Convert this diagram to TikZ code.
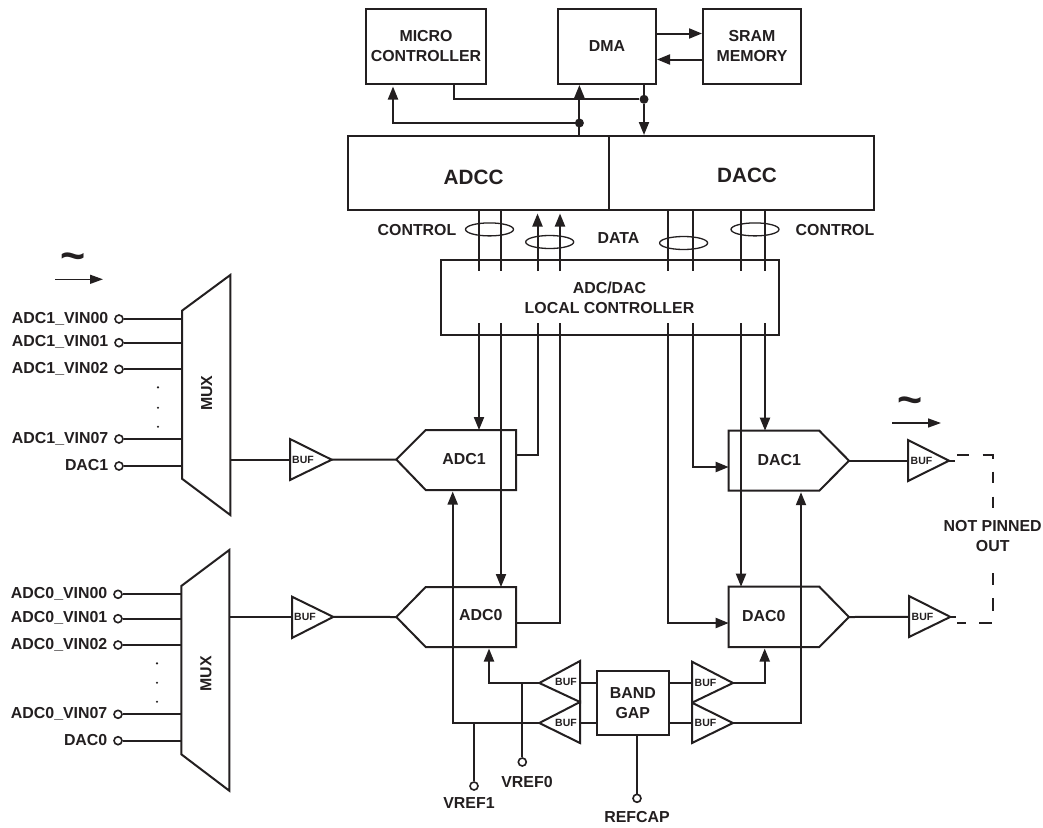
\documentclass[tikz,border=0pt]{standalone}
\usepackage{fontspec}
\setmainfont{Liberation Sans}[BoldFont={Liberation Sans Bold}]
\usetikzlibrary{arrows.meta,shapes.geometric,calc}
\definecolor{ink}{RGB}{35,31,32}
\tikzset{
  wire/.style={draw=ink,line width=2pt},
  arr/.style={wire,-{Triangle[length=13pt,width=10pt]}},
  thinarr/.style={draw=ink,line width=1.5pt,-{Triangle[length=13pt,width=9pt]}},
  shapeline/.style={draw=ink,line width=2pt,fill=white,line join=miter},
  block/.style={draw=ink,line width=2pt,rectangle,inner sep=0pt,align=center,fill=white,text=ink,
    font=\fontsize{15.9}{20}\selectfont\bfseries},
  lab/.style={text=ink,inner sep=0pt,align=center,font=\fontsize{15.9}{20}\selectfont\bfseries},
  biglab/.style={text=ink,inner sep=0pt,font=\fontsize{20.7}{24}\selectfont\bfseries},
  buflab/.style={text=ink,inner sep=0pt,font=\fontsize{10.5}{12}\selectfont\bfseries},
  term/.style={circle,draw=ink,line width=1.6pt,fill=white,minimum size=8pt,inner sep=0pt},
  junction/.style={circle,fill=ink,minimum size=9pt,inner sep=0pt},
  loop/.style={ellipse,draw=ink,line width=1.3pt,minimum width=48pt,minimum height=13pt,inner sep=0pt},
  vdot/.style={circle,fill=ink,minimum size=2.4pt,inner sep=0pt},
  tildelab/.style={text=ink,inner sep=0pt,font=\fontsize{43}{43}\selectfont\bfseries},
}
\begin{document}
\begin{tikzpicture}[x=1pt,y=-1pt]
\useasboundingbox (0,0) rectangle (1043,827);
\fill[white] (0,0) rectangle (1043,827);

% top blocks
\node[block,minimum width=120pt,minimum height=75pt] (micro) at (426,46.5) {MICRO\\CONTROLLER};
\node[block,minimum width=98pt,minimum height=75pt] (dma) at (607,46.5) {\raisebox{1.5pt}{DMA}};
\node[block,minimum width=98pt,minimum height=75pt] (sram) at (752,46.5) {SRAM\\MEMORY};
\node[block,minimum width=261pt,minimum height=74pt] (adcc) at (478.5,173) {};
\node[block,minimum width=265pt,minimum height=74pt] (dacc) at (741.5,173) {};
\node[biglab] (adcct) at (473.6,177) {ADCC};
\node[biglab] (dacct) at (747,175.8) {DACC};
\node[block,minimum width=338pt,minimum height=75pt] (lc) at (609.5,297.5) {ADC/DAC\\LOCAL CONTROLLER};

% x positions of the eight bus lines, and the stub limits inside the controller
\coordinate (xa) at (479,0);
\coordinate (xb) at (501,0);
\coordinate (xc) at (537.5,0);
\coordinate (xd) at (560,0);
\coordinate (xe) at (668,0);
\coordinate (xf) at (693,0);
\coordinate (xg) at (741,0);
\coordinate (xh) at (765,0);
\coordinate (s1) at (0,271);
\coordinate (s2) at (0,323);
\coordinate (tipup) at (0,213.5);

% ADC / DAC shapes
\coordinate (a1t) at (516,430);
\coordinate (a1b) at (516,490);
\coordinate (a0t) at (516,587);
\coordinate (a0b) at (516,647);
\coordinate (a1o) at (516,454.7);
\coordinate (a0o) at (516,622.7);
\coordinate (a1i) at (396.3,459.5);
\coordinate (a0i) at (396.3,617);
\coordinate (d1o) at (849,460.7);
\coordinate (d0o) at (849,617);
\coordinate (d1t) at (728.7,430.7);
\coordinate (d1b) at (728.7,490.7);
\coordinate (d0t) at (728.7,586.7);
\coordinate (d0b) at (728.7,647);
\draw[shapeline] (a1i) -- (425.7,430) -- (a1t) -- (a1b) -- (425.7,490) -- cycle;
\draw[shapeline] (a0i) -- (425.7,587) -- (a0t) -- (a0b) -- (425.7,647) -- cycle;
\draw[shapeline] (d1o) -- (819.3,430.7) -- (d1t) -- (d1b) -- (819.3,490.7) -- cycle;
\draw[shapeline] (d0o) -- (819.3,586.7) -- (d0t) -- (d0b) -- (819.3,647) -- cycle;
\node[lab] (adc1) at (464,459) {ADC1};
\node[lab] (adc0) at (480.7,615.5) {ADC0};
\node[lab] (dac1) at (779.3,460) {DAC1};
\node[lab] (dac0) at (763.7,615.7) {DAC0};

% top connectors
\coordinate (mo) at (453.5,84);
\coordinate (xup) at (579.4,0);
\coordinate (xdown) at (644,0);
\coordinate (xmu) at (393,0);
\node[junction] (j1) at (644,99.3) {};
\node[junction] (j2) at (579.4,123) {};
\draw[wire] (micro.south -| mo) |- (j1);
\draw[wire] (dma.south -| xdown) -- (j1);
\draw[arr] (j1) -- (dacc.north -| xdown);
\draw[arr] (adcc.north -| xup) -- (dma.south -| xup);
\draw[arr] (j2) -| ($(micro.south -| xmu)+(0,1.5)$);
\coordinate (h1) at (0,33.5);
\coordinate (h2) at (0,59.5);
\draw[arr] (dma.east |- h1) -- (sram.west |- h1);
\draw[arr] (sram.west |- h2) -- (dma.east |- h2);

% bus lines
\foreach \n in {xa,xb,xe,xf,xg,xh} {\draw[wire] (adcc.south -| \n) -- (\n |- s1);}
\foreach \n in {xc,xd} {\draw[arr] (\n |- s1) -- (\n |- tipup);}
\draw[arr] (xa |- s2) -- (xa |- a1t);
\draw[arr] (xb |- s2) -- (xb |- a0t);
\draw[wire] (xc |- s2) |- (a1o);
\draw[wire] (xd |- s2) |- (a0o);
\coordinate (d0in) at (0,623);
\coordinate (d1in) at (0,467);
\draw[arr] (xe |- s2) |- (d0t |- d0in);
\draw[arr] (xf |- s2) |- (d1t |- d1in);
\draw[arr] (xg |- s2) -- (xg |- d0t);
\draw[arr] (xh |- s2) -- (xh |- d1t);

\node[loop] (e1) at (489.5,229.4) {};
\node[loop] (e2) at (549.7,242) {};
\node[loop] (e3) at (683.6,243) {};
\node[loop] (e4) at (755,229.4) {};
\node[lab] (ctlL) at (417,230) {CONTROL};
\node[lab] (datal) at (618.5,238.4) {DATA};
\node[lab] (ctlR) at (835,230) {CONTROL};

% band gap and reference buffers
\node[block,minimum width=72.5pt,minimum height=63.7pt] (bg) at (632.8,702.8) {BAND\\GAP};
\coordinate (r1) at (0,683);
\coordinate (r2) at (0,723);
\coordinate (b1t) at (539.3,683);
\coordinate (b2t) at (539.3,723);
\coordinate (b3t) at (733,683);
\coordinate (b4t) at (733,723);
\coordinate (lb) at (580,0);
\coordinate (rb) at (692,0);
\draw[wire] (lb |- r1) -- (bg.west |- r1);
\draw[wire] (lb |- r2) -- (bg.west |- r2);
\draw[wire] (rb |- r1) -- (bg.east |- r1);
\draw[wire] (rb |- r2) -- (bg.east |- r2);
\draw[shapeline,fill=none] (b1t) -- (580,661) -- (580,702) -- cycle;
\draw[shapeline,fill=none] (b2t) -- (580,702) -- (580,743) -- cycle;
\draw[shapeline,fill=none] (b3t) -- (692,661.7) -- (692,702.7) -- cycle;
\draw[shapeline,fill=none] (b4t) -- (692,702.7) -- (692,743) -- cycle;
\node[buflab] (bt1) at (566,681.5) {BUF};
\node[buflab] (bt2) at (566,722.5) {BUF};
\node[buflab] (bt3) at (705.5,682.5) {BUF};
\node[buflab] (bt4) at (705.5,722.5) {BUF};
\coordinate (xa1) at (452.7,0);
\coordinate (xa0) at (489,0);
\coordinate (xd1) at (801,0);
\coordinate (xd0) at (764.7,0);
\draw[arr] (b2t) -| ($(xa1 |- a1b)+(0,1.5)$);
\draw[arr] (b1t) -| ($(xa0 |- a0b)+(0,1.5)$);
\draw[arr] (b4t) -| ($(xd1 |- d1b)+(0,1.5)$);
\draw[arr] (b3t) -| ($(xd0 |- d0b)+(0,1.5)$);
\node[term] (vr1) at (474,786) {};
\node[term] (vr0) at (522.3,762) {};
\node[term] (rc) at (637,798.3) {};
\draw[wire] (vr1) -- (vr1 |- r2);
\draw[wire] (vr0) -- (vr0 |- r1);
\draw[wire] (rc) -- (rc |- bg.south);
\node[lab] (vr1t) at (469,803.5) {VREF1};
\node[lab] (vr0t) at (527,781.7) {VREF0};
\node[lab] (rct) at (637,817.5) {REFCAP};

% muxes
\coordinate (m1e) at (182,0);
\coordinate (m0e) at (181.3,0);
\coordinate (m1o) at (230.3,459.7);
\coordinate (m0o) at (229.3,616.9);
\coordinate (b5i) at (290,459.7);
\coordinate (b5o) at (331.7,459.7);
\coordinate (b6i) at (292,616.9);
\coordinate (b6o) at (333.3,616.9);
\draw[shapeline] (182,310.7) -- (230.3,275) -- (230.3,515) -- (182,478.7) -- cycle;
\draw[shapeline] (181.3,586) -- (229.3,550) -- (229.3,790.7) -- (181.3,754.3) -- cycle;
\node[lab,rotate=90] (m1t) at (206.7,393.3) {MUX};
\node[lab,rotate=90] (m0t) at (206,674) {MUX};
\draw[shapeline,fill=none] (b5i |- 0,439) -- (b5o) -- (b5i |- 0,480) -- cycle;
\draw[shapeline,fill=none] (b6i |- 0,596.7) -- (b6o) -- (b6i |- 0,638) -- cycle;
\node[buflab] (bt5) at (303,459.5) {BUF};
\node[buflab] (bt6) at (305,617) {BUF};
\draw[wire] (m1o) -- (b5i);
\draw[wire] (m0o) -- (b6i);
\draw[wire] (b5o) -- (a1i);
\draw[wire] (b6o) -- (a0i);

% mux inputs
\foreach \nm/\y/\txt in {p1/319/ADC1\_VIN00,p2/342.7/ADC1\_VIN01,p3/369.3/ADC1\_VIN02,p4/439/ADC1\_VIN07,p5/466/DAC1}{
  \node[term] (\nm) at (119,\y) {};
  \draw[wire] (\nm) -- (\nm -| m1e);
  \node[lab,anchor=east] (\nm t) at (108.5,\y-0.5) {\txt};
}
\foreach \nm/\y/\txt in {q1/594.3/ADC0\_VIN00,q2/618.7/ADC0\_VIN01,q3/645/ADC0\_VIN02,q4/714.3/ADC0\_VIN07,q5/740.7/DAC0}{
  \node[term] (\nm) at (118,\y) {};
  \draw[wire] (\nm) -- (\nm -| m0e);
  \node[lab,anchor=east] (\nm t) at (107.5,\y-0.5) {\txt};
}
\foreach \nm/\x/\y in {d1/158/387.3,d2/158/407.7,d3/158/426.7,d4/157/663.3,d5/157/682.7,d6/157/701.7}{
  \node[vdot] (\nm) at (\x,\y) {};
}

% output buffers
\coordinate (b7i) at (908,460.7);
\coordinate (b7o) at (949,460.7);
\coordinate (b8i) at (909,616.9);
\coordinate (b8o) at (950.3,616.9);
\draw[shapeline,fill=none] (b7i |- 0,440) -- (b7o) -- (b7i |- 0,481) -- cycle;
\draw[shapeline,fill=none] (b8i |- 0,596) -- (b8o) -- (b8i |- 0,637) -- cycle;
\node[buflab] (bt7) at (921.5,461) {BUF};
\node[buflab] (bt8) at (922.5,616.5) {BUF};
\draw[wire] (d1o) -- (b7i);
\draw[wire] (d0o) -- (b8i);
\draw[wire] (b7o) -- ++(6,0);
\draw[wire] (b8o) -- ++(6,0);

% not-pinned-out dashes
\foreach \xa/\ya/\xb/\yb in {957/455/969/455,982.7/455/993.5/455,992.7/455/992.7/459,992.7/471.7/992.7/483,992.7/496.7/992.7/508,992.7/573/992.7/585,992.7/598/992.7/610.7,957/623/966/623,979/623/991.7/623}{
  \draw[wire] (\xa,\ya) -- (\xb,\yb);
}
\node[lab] (npo) at (992.7,536.5) {NOT PINNED\\OUT};

% signal symbols
\node[tildelab] (tl) at (72.7,261.5) {\char"7E};
\coordinate (al1) at (55,279.3);
\coordinate (al2) at (103,279.3);
\draw[thinarr] (al1) -- (al2);
\node[tildelab] (tr) at (910,405.5) {\char"7E};
\coordinate (ar1) at (892,423);
\coordinate (ar2) at (941,423);
\draw[thinarr] (ar1) -- (ar2);
\end{tikzpicture}
\end{document}
